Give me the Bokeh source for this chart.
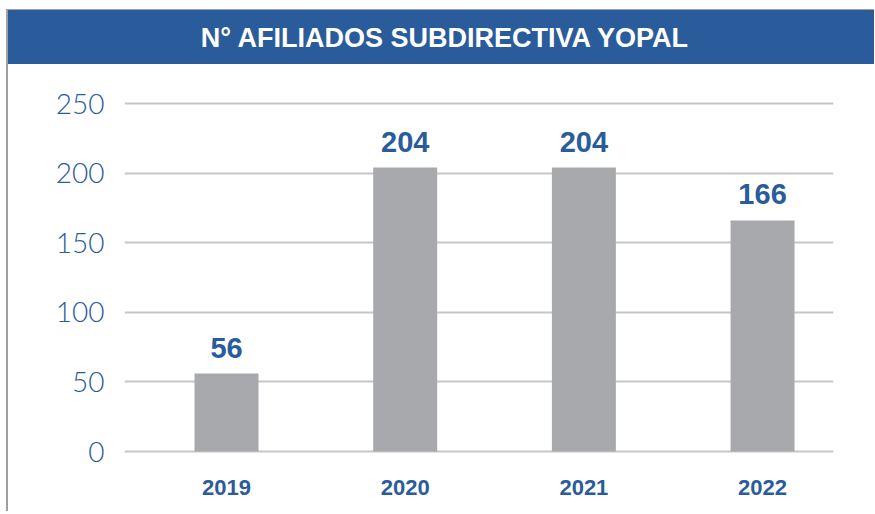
from bokeh.plotting import figure
from bokeh.layouts import column
from bokeh.models import Range1d, FixedTicker, ColumnDataSource
from bokeh.core.properties import value
from bokeh.embed import file_html
from bokeh.resources import INLINE

title_text = "N° AFILIADOS SUBDIRECTIVA YOPAL"
years = [2019, 2020, 2021, 2022]
afiliados = [56, 204, 204, 166]
y_ticks = [0, 50, 100, 150, 200, 250]

BLUE = "#2a5c9c"
BAR = "#a8a9ad"
GRID = "#c6c6c6"
FONT = "Liberation Sans"
LIGHT_FONT = "Lato Light, Liberation Sans"
MBL, MBR = 116, 41

# header
h = figure(width=866, height=54, output_backend="svg", toolbar_location=None,
           x_range=Range1d(0, 1), y_range=Range1d(0, 1),
           min_border_left=MBL, min_border_right=MBR, min_border_top=0, min_border_bottom=0,
           styles={"background-color": BLUE})
h.axis.visible = False
h.grid.visible = False
h.outline_line_color = None
h.background_fill_color = None
h.border_fill_color = None
h.text(x=[0.4528], y=[0.5], text=[title_text], text_color="white",
       text_font=value(FONT), text_font_style="bold", text_font_size="27px",
       text_align="center", text_baseline="middle")

# chart
src = ColumnDataSource(dict(x=years, y=afiliados, label=[str(v) for v in afiliados]))
p = figure(width=866, height=447, output_backend="svg", toolbar_location=None,
           x_range=Range1d(2018.429, 2022.397), y_range=Range1d(-2.87, 252.9),
           min_border_left=MBL, min_border_right=MBR, min_border_top=35, min_border_bottom=56)
p.outline_line_color = None
p.vbar(x="x", top="y", width=0.358, source=src, color=BAR, line_color=None)
p.text(x="x", y="y", text="label", source=src, text_color=BLUE,
       text_font=value(FONT), text_font_style="bold", text_font_size="29px",
       text_align="center", text_baseline="bottom", y_offset=-16)

p.xgrid.visible = False
p.ygrid.ticker = FixedTicker(ticks=y_ticks)
p.ygrid.grid_line_color = GRID
p.ygrid.grid_line_width = 2

p.yaxis.ticker = FixedTicker(ticks=y_ticks)
p.xaxis.ticker = FixedTicker(ticks=years)
for ax in (p.xaxis[0], p.yaxis[0]):
    ax.axis_line_color = None
    ax.major_tick_line_color = None
    ax.minor_tick_line_color = None
    ax.major_tick_out = 0
    ax.major_tick_in = 0
    ax.major_label_text_color = BLUE
    ax.major_label_text_font = FONT
p.yaxis.major_label_text_font = LIGHT_FONT
p.yaxis.major_label_text_font_size = "28px"
p.yaxis.major_label_standoff = 20
p.xaxis.major_label_text_font_size = "22px"
p.xaxis.major_label_text_font_style = "bold"
p.xaxis.major_label_standoff = 24

layout = column(h, p, spacing=0,
                styles={"border-top": "1px solid #a0a0a0", "border-left": "2px solid #a0a0a0",
                        "margin-top": "9px", "margin-left": "6px"})

open("out.html", "w").write(file_html(layout, INLINE))
